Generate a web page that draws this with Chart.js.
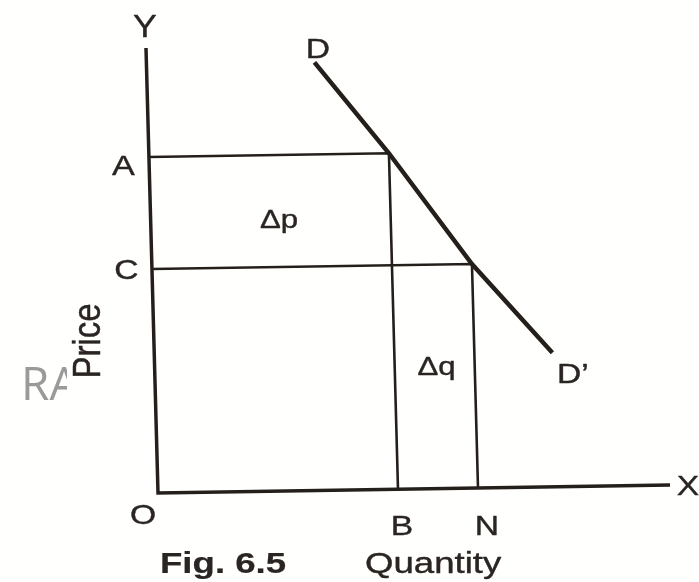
<!DOCTYPE html>
<html>
<head>
<meta charset="utf-8">
<script src="https://cdn.jsdelivr.net/npm/chart.js@4/dist/chart.umd.min.js"></script>
<style>
  html, body { margin: 0; padding: 0; background: #ffffff; }
  #wrap { width: 699px; height: 582px; }
</style>
</head>
<body>
<div id="wrap"><canvas id="c" width="699" height="582"></canvas></div>
<script>
// ---- data (quantity on x, price on y) ----
const axisEnd = { quantity: 12.8, price: 11.125 };
const priceLevels = { A: 8.4, C: 5.6 };          // OA, OC
const quantityLevels = { B: 6, N: 8 };           // OB, ON
const demandQuantity = [4.2, 6, 8, 9.95];        // D ... D'
const demandPrice    = [10.7, 8.4, 5.6, 3.35];

// ---- label texts ----
const axisNames = { x: 'X', y: 'Y', xTitle: 'Quantity', yTitle: 'Price', origin: 'O' };
const caption = 'Fig. 6.5';
const changeLabels = { price: 'Δp', quantity: 'Δq' };
const curveLabels = { start: 'D', end: 'D’' };

// ---- build datasets from the data ----
const axesLine = [
  { x: 0, y: axisEnd.price },
  { x: 0, y: 0 },
  { x: axisEnd.quantity, y: 0 }
];
const rectA = [
  { x: 0, y: priceLevels.A },
  { x: quantityLevels.B, y: priceLevels.A },
  { x: quantityLevels.B, y: 0 }
];
const rectC = [
  { x: 0, y: priceLevels.C },
  { x: quantityLevels.N, y: priceLevels.C },
  { x: quantityLevels.N, y: 0 }
];
const demand = demandQuantity.map((q, i) => ({ x: q, y: demandPrice[i] }));

const ink = '#241f1b';
function lineSet(data, width) {
  return { data, showLine: true, borderColor: ink, borderWidth: width,
           pointRadius: 0, pointHoverRadius: 0, fill: false, tension: 0,
           borderJoinStyle: 'miter', borderCapStyle: 'butt' };
}

// slight skew of the scanned page
const scanSkew = {
  id: 'scanSkew',
  beforeDatasetsDraw(chart) {
    const ctx = chart.ctx;
    const ox = chart.scales.x.getPixelForValue(0);
    const oy = chart.scales.y.getPixelForValue(0);
    const kx = 0.027, ky = -0.0156;
    ctx.save();
    ctx.transform(1, ky, kx, 1, -kx * oy, -ky * ox);
  },
  afterDatasetsDraw(chart) { chart.ctx.restore(); }
};

const background = {
  id: 'background',
  beforeDraw(chart) {
    const ctx = chart.ctx;
    ctx.save();
    ctx.fillStyle = '#fffffd';
    ctx.fillRect(0, 0, chart.width, chart.height);
    ctx.restore();
  }
};

// text labels (positions in canvas pixels)
const labelLayout = [
  { t: axisNames.y, x: 145, y: 37, size: 31, sx: 1.15, align: 'center' },
  { t: curveLabels.start, x: 318, y: 58, size: 28, sx: 1.2, align: 'center' },
  { t: 'A', x: 123.5, y: 175, size: 28, sx: 1.22, align: 'center' },
  { t: 'C', x: 126.5, y: 279, size: 28, sx: 1.2, align: 'center' },
  { t: changeLabels.price, x: 279, y: 228, size: 26, sx: 1.2, align: 'center' },
  { t: changeLabels.quantity, x: 436.5, y: 375, size: 26, sx: 1.2, align: 'center' },
  { t: curveLabels.end, x: 557, y: 383, size: 28, sx: 1.2, align: 'left' },
  { t: axisNames.origin, x: 130, y: 524, size: 28, sx: 1.2, align: 'left' },
  { t: 'B', x: 402, y: 535, size: 28, sx: 1.2, align: 'center' },
  { t: 'N', x: 487, y: 535, size: 28, sx: 1.2, align: 'center' },
  { t: axisNames.x, x: 688, y: 495, size: 28, sx: 1.2, align: 'center' },
  { t: caption, x: 160, y: 573, size: 30, sx: 1.22, align: 'left', bold: true },
  { t: axisNames.xTitle, x: 365, y: 573, size: 30, sx: 1.22, align: 'left' },
  { t: axisNames.yTitle, x: 100, y: 341, size: 33, sx: 1.18, align: 'center', rot: true }
];

const labels = {
  id: 'labels',
  afterDraw(chart) {
    const ctx = chart.ctx;
    // watermark fragment
    ctx.save();
    ctx.beginPath();
    ctx.rect(0, 340, 67, 80);
    ctx.clip();
    ctx.fillStyle = '#9a9a9a';
    ctx.font = '46px "Open Sans", "Noto Sans", sans-serif';
    ctx.textAlign = 'left';
    ctx.textBaseline = 'alphabetic';
    ctx.fillText('RA', 21, 400);
    ctx.restore();

    for (const L of labelLayout) {
      ctx.save();
      ctx.fillStyle = '#2a2522';
      ctx.strokeStyle = '#2a2522';
      ctx.lineWidth = L.bold ? 0.2 : 0.4;
      ctx.lineJoin = 'round';
      ctx.font = (L.bold ? 'bold ' : '') + L.size + 'px "Liberation Sans", Arial, sans-serif';
      ctx.textBaseline = 'alphabetic';
      ctx.translate(L.x, L.y);
      ctx.scale(L.sx, 1);
      if (L.rot) {
        ctx.rotate(-Math.PI / 2);
        ctx.textAlign = 'center';
      } else {
        ctx.textAlign = L.align;
      }
      ctx.fillText(L.t, 0, 0);
      ctx.strokeText(L.t, 0, 0);
      ctx.restore();
    }
  }
};

new Chart(document.getElementById('c'), {
  type: 'scatter',
  data: {
    datasets: [
      lineSet(axesLine, 3.5),
      lineSet(rectA, 2.6),
      lineSet(rectC, 2.6),
      lineSet(demand, 4.5)
    ]
  },
  options: {
    responsive: false,
    animation: false,
    events: [],
    layout: { padding: 0 },
    plugins: { legend: { display: false }, tooltip: { enabled: false }, title: { display: false } },
    scales: {
      x: { type: 'linear', display: false, min: -3.95, max: 13.525 },
      y: { type: 'linear', display: false, min: -2.225, max: 12.325 }
    }
  },
  plugins: [background, scanSkew, labels]
});
</script>
</body>
</html>
